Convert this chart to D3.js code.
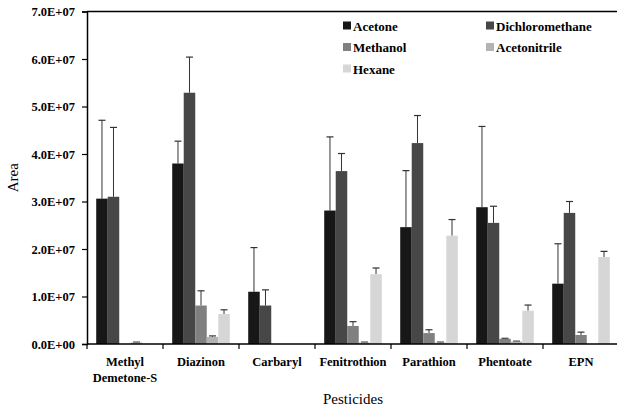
<!DOCTYPE html>
<html>
<head>
<meta charset="utf-8">
<script src="https://cdn.jsdelivr.net/npm/d3@7"></script>
<style>
  body { margin: 0; background: #fff; }
</style>
</head>
<body>
<svg id="chart" width="617" height="411"></svg>
<script>
// pesticide groups along the x axis
const pesticides = ['Methyl Demetone-S', 'Diazinon', 'Carbaryl', 'Fenitrothion', 'Parathion', 'Phentoate', 'EPN'];
const solvents = ['Acetone', 'Dichloromethane', 'Methanol', 'Acetonitrile', 'Hexane'];
const solventColors = ['#171717', '#474747', '#808080', '#b3b3b3', '#d6d6d6'];

// mean peak area (x 1E+07) per solvent, one entry per pesticide
const acetone         = [3.06, 3.80, 1.10, 2.81, 2.46, 2.88, 1.27];
const dichloromethane = [3.10, 5.29, 0.81, 3.64, 4.23, 2.55, 2.76];
const methanol        = [0.00, 0.81, 0.00, 0.38, 0.23, 0.11, 0.19];
const acetonitrile    = [0.03, 0.15, 0.00, 0.03, 0.03, 0.05, 0.00];
const hexane          = [0.00, 0.63, 0.00, 1.47, 2.28, 0.70, 1.83];

// top of the error bar (x 1E+07)
const acetoneErr         = [4.71, 4.27, 2.03, 4.36, 3.65, 4.58, 2.11];
const dichloromethaneErr = [4.56, 6.04, 1.14, 4.01, 4.81, 2.90, 3.00];
const methanolErr        = [0.00, 1.12, 0.00, 0.47, 0.30, 0.12, 0.25];
const acetonitrileErr    = [0.04, 0.17, 0.00, 0.04, 0.04, 0.06, 0.00];
const hexaneErr          = [0.00, 0.72, 0.00, 1.60, 2.62, 0.82, 1.95];

const yTicks = [0, 1, 2, 3, 4, 5, 6, 7];

const seriesValues = [acetone, dichloromethane, methanol, acetonitrile, hexane];
const seriesErrors = [acetoneErr, dichloromethaneErr, methanolErr, acetonitrileErr, hexaneErr];

const FONT = '"Liberation Serif", "DejaVu Serif", serif';

const margin = { left: 87, top: 11.5, right: -2, bottom: 67 };
const width = 617, height = 411;

const svg = d3.select('#chart');

const x0 = d3.scaleBand()
    .domain(pesticides)
    .range([margin.left, width - margin.right]);

const x1 = d3.scaleBand()
    .domain(solvents)
    .range([0, x0.bandwidth()])
    .paddingOuter(0.8);

const y = d3.scaleLinear()
    .domain([0, 7])
    .range([height - margin.bottom, margin.top]);

const color = d3.scaleOrdinal().domain(solvents).range(solventColors);

// build a flat list of bars
const bars = [];
pesticides.forEach((p, i) => {
    solvents.forEach((s, j) => {
        bars.push({ pesticide: p, solvent: s, value: seriesValues[j][i], err: seriesErrors[j][i] });
    });
});

// error bars first so the bars sit on top of the lower half
const errG = svg.append('g');
bars.filter(d => d.err > d.value).forEach(d => {
    const cx = x0(d.pesticide) + x1(d.solvent) + x1.bandwidth() / 2;
    errG.append('line')
        .attr('x1', cx).attr('x2', cx)
        .attr('y1', y(d.value)).attr('y2', y(d.err))
        .attr('stroke', '#333').attr('stroke-width', 1);
    errG.append('line')
        .attr('x1', cx - 3.5).attr('x2', cx + 3.5)
        .attr('y1', y(d.err)).attr('y2', y(d.err))
        .attr('stroke', '#333').attr('stroke-width', 1.2);
});

svg.append('g')
    .selectAll('rect')
    .data(bars.filter(d => d.value > 0))
    .enter()
    .append('rect')
    .attr('x', d => x0(d.pesticide) + x1(d.solvent))
    .attr('y', d => y(d.value))
    .attr('width', x1.bandwidth())
    .attr('height', d => y(0) - y(d.value))
    .attr('fill', d => color(d.solvent));

// top frame line
svg.append('line')
    .attr('x1', margin.left).attr('x2', width)
    .attr('y1', y(7)).attr('y2', y(7))
    .attr('stroke', '#000').attr('stroke-width', 1.5);

// y axis
const fmt = d => d === 0 ? '0.0E+00' : d.toFixed(1) + 'E+07';
const yAxis = svg.append('g')
    .attr('transform', `translate(${margin.left},0)`)
    .call(d3.axisLeft(y).tickValues(yTicks).tickFormat(fmt).tickSize(5).tickPadding(7));
yAxis.attr('font-family', null);
yAxis.select('.domain').attr('stroke-width', 1.5);
yAxis.selectAll('.tick line').attr('stroke-width', 1.2);
yAxis.selectAll('.tick text')
    .style('font-family', FONT)
    .style('font-size', '12.5px').style('font-weight', 'bold').attr('fill', '#000');

// x axis: ticks sit at group boundaries
const boundaries = pesticides.map(p => x0(p)).concat([x0.range()[1]]);
const xAxisG = svg.append('g');
xAxisG.append('line')
    .attr('x1', margin.left).attr('x2', width)
    .attr('y1', y(0)).attr('y2', y(0))
    .attr('stroke', '#000').attr('stroke-width', 1.5);
xAxisG.selectAll('.xt')
    .data(boundaries)
    .enter()
    .append('line')
    .attr('x1', d => d).attr('x2', d => d)
    .attr('y1', y(0)).attr('y2', y(0) + 5)
    .attr('stroke', '#000').attr('stroke-width', 1.2);

const labels = xAxisG.selectAll('.xl')
    .data(pesticides)
    .enter()
    .append('text')
    .attr('x', d => x0(d) + x0.bandwidth() / 2)
    .attr('y', y(0) + 21.5)
    .attr('text-anchor', 'middle')
    .style('font-family', FONT)
    .style('font-size', '12.5px')
    .style('font-weight', 'bold');
labels.each(function(d) {
    const words = d === 'Methyl Demetone-S' ? ['Methyl', 'Demetone-S'] : [d];
    const t = d3.select(this);
    words.forEach((w, k) => {
        t.append('tspan')
            .attr('x', x0(d) + x0.bandwidth() / 2)
            .attr('dy', k === 0 ? 0 : 16.5)
            .text(w);
    });
});

// axis titles
svg.append('text')
    .attr('transform', `translate(18,${(y(0) + y(7)) / 2}) rotate(-90)`)
    .attr('text-anchor', 'middle')
    .style('font-family', FONT)
    .style('font-size', '15px')
    .text('Area');

svg.append('text')
    .attr('x', (margin.left + width) / 2 + 1)
    .attr('y', 404)
    .attr('text-anchor', 'middle')
    .style('font-family', FONT)
    .style('font-size', '15px')
    .text('Pesticides');

// legend, two columns
const legend = svg.append('g');
solvents.forEach((s, i) => {
    const lx = i % 2 === 0 ? 343 : 486;
    const ly = 26 + Math.floor(i / 2) * 21.5;
    legend.append('rect')
        .attr('x', lx).attr('y', ly - 4.5)
        .attr('width', 8).attr('height', 8)
        .attr('fill', color(s));
    legend.append('text')
        .attr('x', lx + 10).attr('y', ly + 4.5)
        .style('font-family', FONT)
        .style('font-size', '13px')
        .style('font-weight', 'bold')
        .text(s);
});
</script>
</body>
</html>
